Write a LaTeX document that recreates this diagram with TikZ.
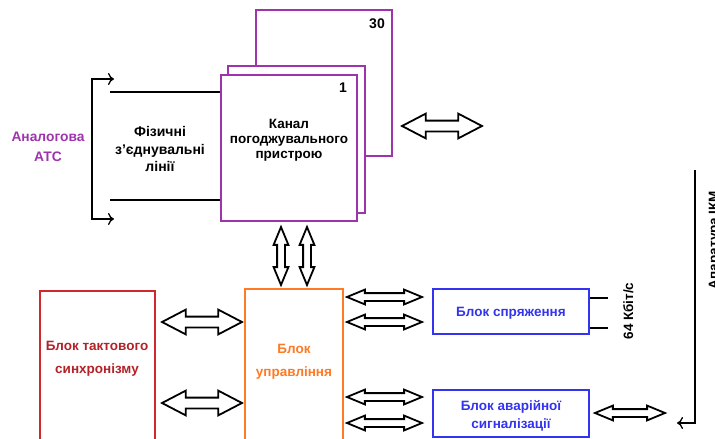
\documentclass[tikz,border=0pt]{standalone}
\usepackage{fontspec}
\setmainfont{Liberation Sans}
\usetikzlibrary{arrows.meta,shapes.arrows}
\definecolor{chpurple}{RGB}{158,52,172}
\definecolor{syncred}{RGB}{208,40,44}
\definecolor{synctext}{RGB}{178,34,40}
\definecolor{ctrlorange}{RGB}{255,122,36}
\definecolor{ifblue}{RGB}{52,52,240}
\tikzset{
  lbl/.style={font=\bfseries\fontsize{13.5}{15}\selectfont, align=center, inner sep=0pt},
  chbox/.style={draw=chpurple, line width=1.6pt, fill=white, inner sep=0pt},
  blockbox/.style={line width=1.6pt, fill=white, inner sep=0pt},
  wire/.style={line width=1.3pt, black},
  opentip/.style={-{To[length=6pt,width=12pt]}},
  duplex/.style={double arrow, draw=black, line width=1.8pt, fill=white, inner sep=0pt,
    minimum height=#1},
  bigduplex/.style={duplex=#1, inner ysep=4.5pt, double arrow head extend=7pt,
    double arrow tip angle=55},
  smallduplex/.style={duplex=#1, inner ysep=3pt, double arrow head extend=3.5pt,
    double arrow tip angle=45},
}
\begin{document}
\begin{tikzpicture}[x=1pt,y=-1pt]
\useasboundingbox (0,0) rectangle (715,439);
\clip (0,0) rectangle (715,439);

% stacked channel boxes (1 ... 30)
\node[chbox, minimum width=136pt, minimum height=146pt] (ch30) at (324,83) {};
\node[chbox, minimum width=137pt, minimum height=147pt] (ch2) at (296.5,139.5) {};
\node[chbox, minimum width=136pt, minimum height=146pt] (ch1) at (289,148) {};
\node[lbl, font=\bfseries\fontsize{14}{15}\selectfont] (n30) at (377,24) {30};
\node[lbl, font=\bfseries\fontsize{14}{15}\selectfont] (n1) at (343,88) {1};
\node[lbl, font=\bfseries\fontsize{13.5}{15}\selectfont] (chtext) at (289,140) {Канал\\погоджувального\\пристрою};

% physical lines
\coordinate (l1) at (110,92);
\coordinate (l2) at (110,200);
\draw[wire] (l1) -- (l1 -| ch1.west);
\draw[wire] (l2) -- (l2 -| ch1.west);
\coordinate (bt) at (114,79);
\coordinate (bb) at (114,219);
\draw[wire, {To[length=6pt,width=12pt]}-{To[length=6pt,width=12pt]}] (bt) -- (92,79) -- (92,219) -- (bb);
\node[lbl, font=\bfseries\fontsize{14}{17.5}\selectfont] (phys) at (160,149) {Фізичні\\з'єднувальні\\лінії};
\node[lbl, text=chpurple, font=\bfseries\fontsize{13.8}{20}\selectfont] (atc) at (48,147) {Аналогова\\АТС};

% link to the right of the channel
\node[bigduplex=80pt] (topar) at (442,126) {};

% channel <-> control
\node[smallduplex=58pt, rotate=90] (va1) at (281,256) {};
\node[smallduplex=58pt, rotate=90] (va2) at (307,256) {};

% lower blocks
\node[blockbox, draw=syncred, minimum width=115pt, minimum height=156pt] (sync) at (97.5,369) {};
\node[lbl, text=synctext, font=\bfseries\fontsize{13.5}{23}\selectfont] at (97,359) {Блок тактового\\синхронізму};
\node[blockbox, draw=ctrlorange, minimum width=98pt, minimum height=158pt] (ctrl) at (294,368) {};
\node[lbl, text=ctrlorange, font=\bfseries\fontsize{13.5}{23}\selectfont] at (294,362) {Блок\\управління};
\node[blockbox, draw=ifblue, minimum width=156pt, minimum height=45pt] (conj) at (511,311.5) {};
\node[lbl, text=ifblue] at (511,313) {Блок спряження};
\node[blockbox, draw=ifblue, minimum width=156pt, minimum height=47pt] (alarm) at (511,413.5) {};
\node[lbl, text=ifblue, font=\bfseries\fontsize{13.5}{18}\selectfont] at (511,416) {Блок аварійної\\сигналізації};

% sync <-> control
\node[bigduplex=80pt] (sa1) at (202,322) {};
\node[bigduplex=80pt] (sa2) at (202,403) {};

% control <-> right blocks
\node[smallduplex=75pt] (ra1) at (384.5,297) {};
\node[smallduplex=75pt] (ra2) at (384.5,322) {};
\node[smallduplex=75pt] (ra3) at (384.5,397) {};
\node[smallduplex=75pt] (ra4) at (384.5,423) {};
\node[smallduplex=70pt] (aa) at (630,413) {};

% 64 kbit/s outputs
\coordinate (o1) at (608,298);
\coordinate (o2) at (608,328);
\draw[wire] (o1 -| conj.east) -- (o1);
\draw[wire] (o2 -| conj.east) -- (o2);
\node[lbl] [rotate=90, anchor=base] (rate) at (633,311) {64 Кбіт/с};

% PCM equipment
\coordinate (ikmtop) at (695,170);
\coordinate (ikmend) at (677,423);
\draw[wire, opentip] (ikmtop) |- (ikmend);
\node[lbl] [rotate=90, anchor=base] (ikm) at (718,240) {Апаратура ІКМ};
\end{tikzpicture}
\end{document}
